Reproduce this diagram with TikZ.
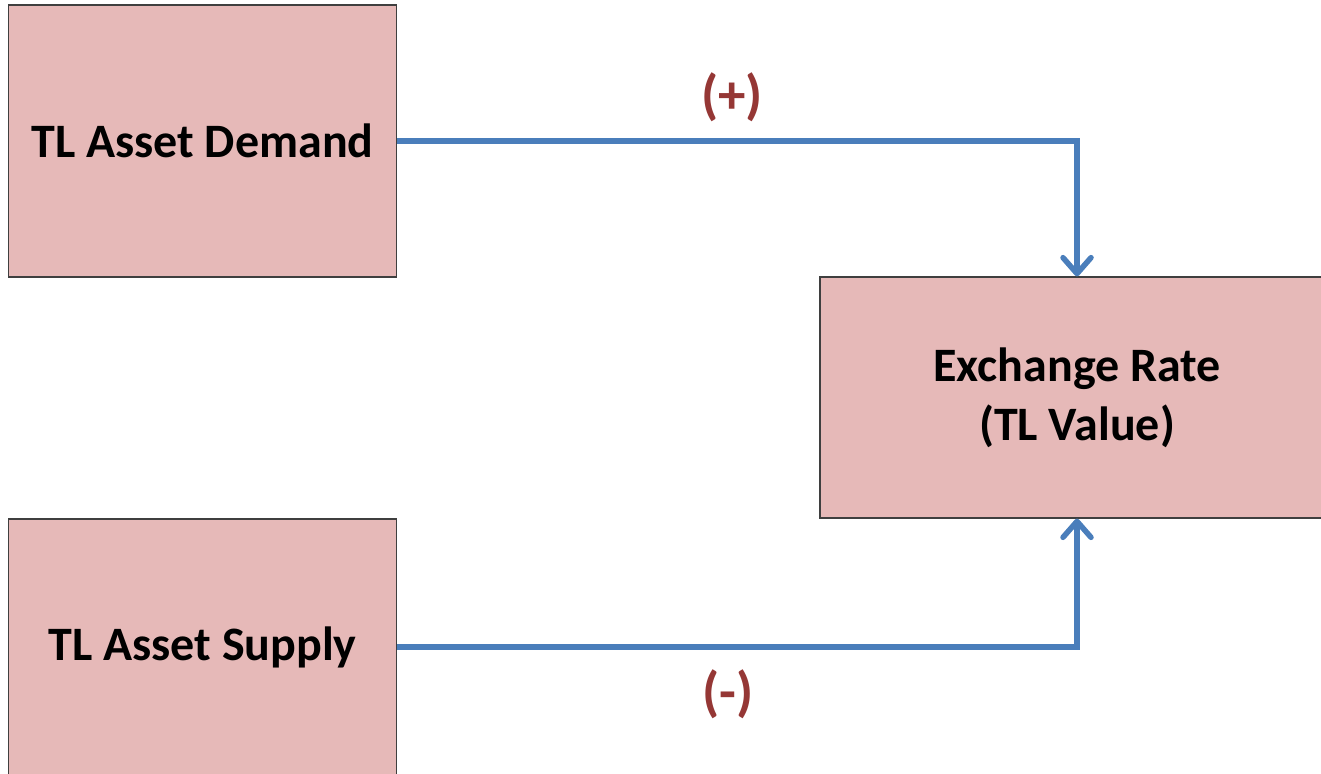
\documentclass[tikz,border=0pt]{standalone}
\usepackage{fontspec}
\setmainfont{Carlito}
\usetikzlibrary{arrows.meta}
\definecolor{boxfill}{HTML}{E6B9B8}
\definecolor{boxline}{HTML}{3F3F3F}
\definecolor{connblue}{HTML}{4A7EBB}
\definecolor{signred}{HTML}{953735}
\tikzset{
  x=1pt, y=-1pt,
  box/.style={draw=boxline, line width=1.2pt, fill=boxfill, inner sep=0pt,
    font=\fontsize{48}{59}\selectfont\bfseries, align=center},
  conn/.style={draw=connblue, line width=5.5pt,
    -{Straight Barb[length=16pt, width=28pt, line width=5.5pt, round]}},
  sign/.style={text=signred, font=\fontsize{55}{60}\selectfont\bfseries, inner sep=0pt}
}
\begin{document}
\begin{tikzpicture}
\useasboundingbox (0,0) rectangle (1321,773);
\node[box, minimum width=388pt, minimum height=272pt] (dem) at (202.5,141) {TL Asset Demand};
\node[box, minimum width=388pt, minimum height=256pt] (sup) at (202.5,647) {TL Asset Supply};
\node[box, minimum width=514pt, minimum height=241pt] (ex) at (1077,397.5) {Exchange Rate\\(TL Value)};
\draw[conn] (dem.east) -| (ex.north);
\draw[conn] (sup.east) -| (ex.south);
\node[sign] (plus) at (732,97) {(+)};
\node[sign] (minus) at (728,694) {(-)};
\end{tikzpicture}
\end{document}
